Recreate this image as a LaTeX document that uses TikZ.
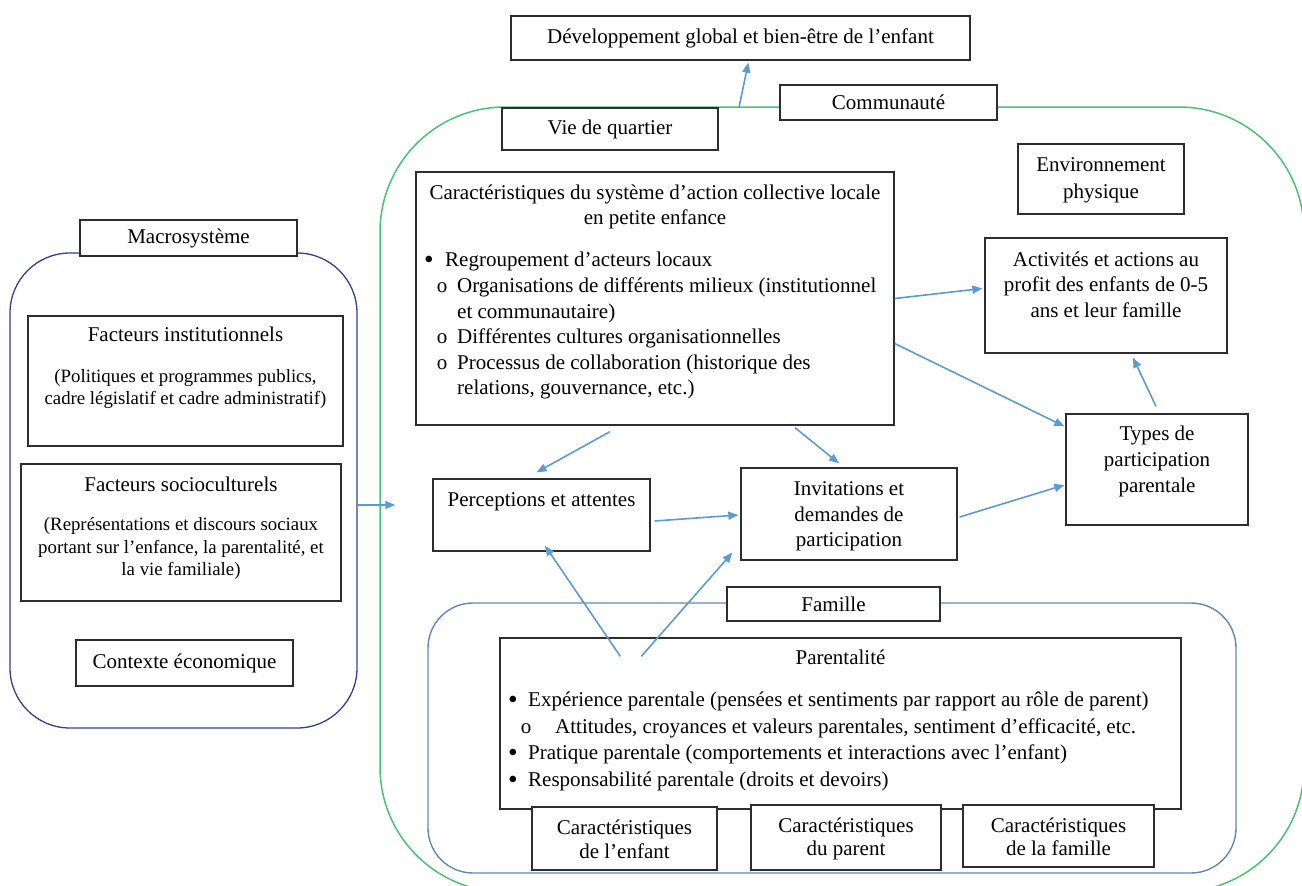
\documentclass[tikz,border=0pt]{standalone}
\usepackage{fontspec}
\setmainfont{Liberation Serif}
\usetikzlibrary{arrows.meta,calc}
\definecolor{arrowblue}{RGB}{91,155,213}
\definecolor{commgreen}{RGB}{70,195,115}
\definecolor{macronavy}{RGB}{50,65,140}
\definecolor{famblue}{RGB}{100,135,185}
\definecolor{boxgray}{RGB}{45,45,45}
\newcommand\tline[4]{\node[txt,anchor=base] (#1) at (#2,#3) {#4};}
\newcommand\tsmall[4]{\node[txt,anchor=base,font=\fontsize{18.8}{22}\selectfont] (#1) at (#2,#3) {#4};}
\newcommand\tleft[4]{\node[txt,anchor=base west] (#1) at (#2,#3) {#4};}
\newcommand\bul{\raisebox{-2.2pt}{\scalebox{1.3}{•}}}
\begin{document}
\begin{tikzpicture}[x=1pt,y=-1pt,
  font=\fontsize{21}{25.5}\selectfont,
  box/.style={draw=boxgray,line width=1.3pt,fill=white,inner sep=0pt,align=center},
  txt/.style={inner sep=0pt},
  area/.style={draw,inner sep=0pt,fill=none},
  conn/.style={draw=arrowblue,line width=1.6pt,-{Triangle[length=10pt,width=8pt]}}]
\useasboundingbox (0,0) rectangle (1302,886);
% enclosing areas
\node[area,draw=commgreen,line width=1.5pt,rounded corners=125pt,minimum width=924pt,minimum height=785pt] (commarea) at (842,499.5) {};
\node[area,draw=macronavy,line width=1.3pt,rounded corners=60pt,minimum width=347pt,minimum height=475pt] (macroarea) at (183.5,490.5) {};
\node[area,draw=famblue,line width=1.4pt,rounded corners=45pt,minimum width=808pt,minimum height=270pt] (famarea) at (832,738) {};
% boxes
\node[box,minimum width=459pt,minimum height=44pt] (dev) at (740.5,38) {Développement global et bien-être de l’enfant};
\node[box,minimum width=217pt,minimum height=35pt] (comm) at (888.5,102.5) {Communauté};
\node[box,minimum width=216pt,minimum height=42pt] (vie) at (610,129) {Vie de quartier};
\node[box,minimum width=217pt,minimum height=36pt] (macro) at (188.5,238) {Macrosystème};
\node[box,minimum width=315pt,minimum height=130pt] (finst) at (185.5,381) {};
\node[box,minimum width=320pt,minimum height=137pt] (fsoc) at (181,532.5) {};
\node[box,minimum width=217pt,minimum height=46pt] (ctx) at (184.5,663) {Contexte économique};
\node[box,minimum width=478pt,minimum height=253pt] (caract) at (655,298.5) {};
\node[box,minimum width=166pt,minimum height=70pt] (env) at (1101,179) {};
\node[box,minimum width=242pt,minimum height=115pt] (activ) at (1106,295.5) {};
\node[box,minimum width=182pt,minimum height=111pt] (types) at (1157,469.5) {};
\node[box,minimum width=217pt,minimum height=72pt] (percep) at (541.5,515) {};
\node[box,minimum width=216pt,minimum height=92pt] (invit) at (849,514) {};
\node[box,minimum width=213pt,minimum height=34pt] (famille) at (833.5,604) {Famille};
\node[box,minimum width=681pt,minimum height=171pt] (parent) at (840.5,723.5) {};
\node[box,minimum width=185pt,minimum height=63pt] (cenf) at (624.5,838.5) {};
\node[box,minimum width=190pt,minimum height=65pt] (cpar) at (846,837.5) {};
\node[box,minimum width=191pt,minimum height=62pt] (cfam) at (1058.5,836) {};
% texts
\tline{fi1}{185.5}{341}{Facteurs institutionnels}
\tsmall{fi2}{185.5}{382}{(Politiques et programmes publics,}
\tsmall{fi3}{185.5}{404}{cadre législatif et cadre administratif)}
\tline{fs1}{181}{491}{Facteurs socioculturels}
\tsmall{fs2}{181}{530}{(Représentations et discours sociaux}
\tsmall{fs3}{181}{553}{portant sur l’enfance, la parentalité, et}
\tsmall{fs4}{181}{575}{la vie familiale)}
\tline{ca1}{655}{199}{Caractéristiques du système d’action collective locale}
\tline{ca2}{655}{224}{en petite enfance}
\tline{cb1}{429}{266}{\bul}
\tleft{cl1}{445}{266}{Regroupement d’acteurs locaux}
\tline{co1}{442}{292}{o}
\tleft{cl2}{457}{292}{Organisations de différents milieux (institutionnel}
\tleft{cl3}{457}{318}{et communautaire)}
\tline{co2}{442}{343}{o}
\tleft{cl4}{457}{343}{Différentes cultures organisationnelles}
\tline{co3}{442}{369}{o}
\tleft{cl5}{457}{369}{Processus de collaboration (historique des}
\tleft{cl6}{457}{394}{relations, gouvernance, etc.)}
\tline{en1}{1101}{171}{Environnement}
\tline{en2}{1101}{198}{physique}
\tline{ac1}{1106}{266}{Activités et actions au}
\tline{ac2}{1106}{291}{profit des enfants de 0-5}
\tline{ac3}{1106}{317}{ans et leur famille}
\tline{ty1}{1157}{440}{Types de}
\tline{ty2}{1157}{466}{participation}
\tline{ty3}{1157}{492}{parentale}
\tline{pe1}{541.5}{506}{Perceptions et attentes}
\tline{in1}{849}{495}{Invitations et}
\tline{in2}{849}{521}{demandes de}
\tline{in3}{849}{546}{participation}
\tline{pa0}{840.5}{664}{Parentalité}
\tline{pb1}{513}{706}{\bul}
\tleft{pl1}{528}{706}{Expérience parentale (pensées et sentiments par rapport au rôle de parent)}
\tline{po1}{526}{733}{o}
\tleft{pl2}{555}{733}{Attitudes, croyances et valeurs parentales, sentiment d’efficacité, etc.}
\tline{pb2}{513}{759}{\bul}
\tleft{pl3}{528}{759}{Pratique parentale (comportements et interactions avec l’enfant)}
\tline{pb3}{513}{786}{\bul}
\tleft{pl4}{528}{786}{Responsabilité parentale (droits et devoirs)}
\tline{ce1}{624.5}{834}{Caractéristiques}
\tline{ce2}{624.5}{858}{de l’enfant}
\tline{cp1}{846}{832}{Caractéristiques}
\tline{cp2}{846}{855}{du parent}
\tline{cf1}{1058.5}{832}{Caractéristiques}
\tline{cf2}{1058.5}{855}{de la famille}
% connectors
\draw[conn] ($(commarea.north)+(-103,1)$) -- ($(dev.south west)+(238,2)$);
\draw[conn] (caract.east) -- ($(activ.west)+(-2,-7)$);
\draw[conn] ($(caract.east)+(0,45)$) -- ($(types.north west)+(-1,13)$);
\draw[conn] ($(caract.south)+(-45,6)$) -- ($(percep.north)+(-5,-6)$);
\draw[conn] ($(caract.south)+(140,2)$) -- ($(invit.north)+(-10,-4)$);
\draw[conn] ($(percep.east)+(4,6)$) -- ($(invit.west)+(-2,1)$);
\draw[conn] ($(invit.east)+(2,3)$) -- ($(types.west)+(-1,15.5)$);
\draw[conn] ($(types.north)+(-1,-7)$) -- ($(activ.south)+(27,4)$);
\draw[conn] ($(parent.north west)+(121,19)$) -- ($(percep.south)+(3.5,-6)$);
\draw[conn] ($(parent.north west)+(142,19)$) -- ($(invit.south west)+(-8,-8)$);
\draw[conn] ($(macroarea.east)+(0,14.5)$) -- ($(commarea.west)+(16,5.5)$);
\end{tikzpicture}
\end{document}
